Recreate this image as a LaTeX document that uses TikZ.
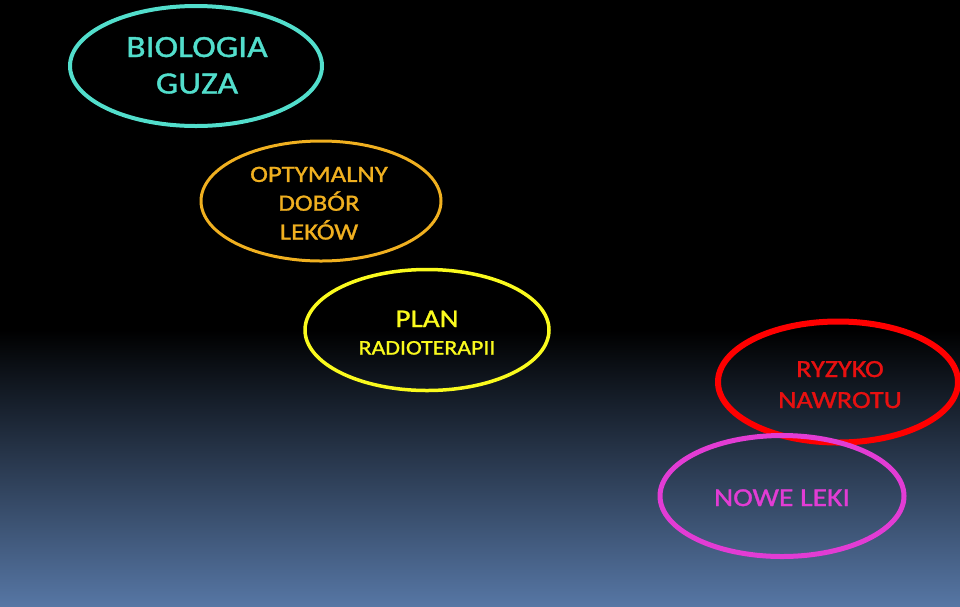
\documentclass[tikz,border=0pt]{standalone}
\usepackage{fontspec}
\setmainfont{Carlito}[FakeStretch=1.15,FakeBold=1.2]
\usetikzlibrary{shapes.geometric}
\definecolor{cCyan}{RGB}{82,222,204}
\definecolor{cOrange}{RGB}{240,176,32}
\definecolor{cYellow}{RGB}{250,250,30}
\definecolor{cRed}{RGB}{255,0,0}
\definecolor{cRedTxt}{RGB}{232,16,16}
\definecolor{cMag}{RGB}{226,60,212}
\definecolor{bgBot}{RGB}{86,118,164}
\tikzset{
  oval/.style={ellipse, inner sep=0pt, minimum width=244pt, minimum height=121pt},
  lbl/.style={anchor=base, align=center, inner sep=0pt},
}
\begin{document}
\begin{tikzpicture}[x=1pt,y=-1pt]
\useasboundingbox (0,0) rectangle (960,606);
\fill[black] (0,0) rectangle (960,606);
\shade[top color=black, bottom color=bgBot] (0,330) rectangle (960,606);
\node[oval, draw=cCyan, line width=4pt, minimum width=252pt, minimum height=120pt] (bio) at (196,66) {};
\node[lbl, text=cCyan, font=\fontsize{30.9}{36.5}\selectfont] (bioT) at (197,93.5) {BIOLOGIA\\GUZA};
\node[oval, draw=cOrange, line width=3pt, minimum width=240pt, minimum height=120pt] (opt) at (321,201) {};
\node[lbl, text=cOrange, font=\fontsize{23.3}{28.8}\selectfont] (optT) at (319,239.5) {OPTYMALNY\\DOBÓR\\LEKÓW};
\node[oval, draw=cYellow, line width=3.5pt] (plan) at (427,330) {};
\node[lbl, text=cYellow, font=\fontsize{20.7}{27.5}\selectfont] (planT) at (427,354.5) {{\fontsize{25.4}{27.5}\selectfont PLAN}\\RADIOTERAPII};
\node[oval, draw=cRed, line width=6pt, minimum width=240pt] (ryz) at (838,382) {};
\node[lbl, text=cRedTxt, font=\fontsize{24.6}{31}\selectfont] (ryzT) at (840,408) {RYZYKO\\NAWROTU};
\node[oval, draw=cMag, line width=5pt] (nowe) at (782,496) {};
\node[lbl, text=cMag, font=\fontsize{25.8}{30}\selectfont] (noweT) at (782,506) {NOWE LEKI};
\end{tikzpicture}
\end{document}
